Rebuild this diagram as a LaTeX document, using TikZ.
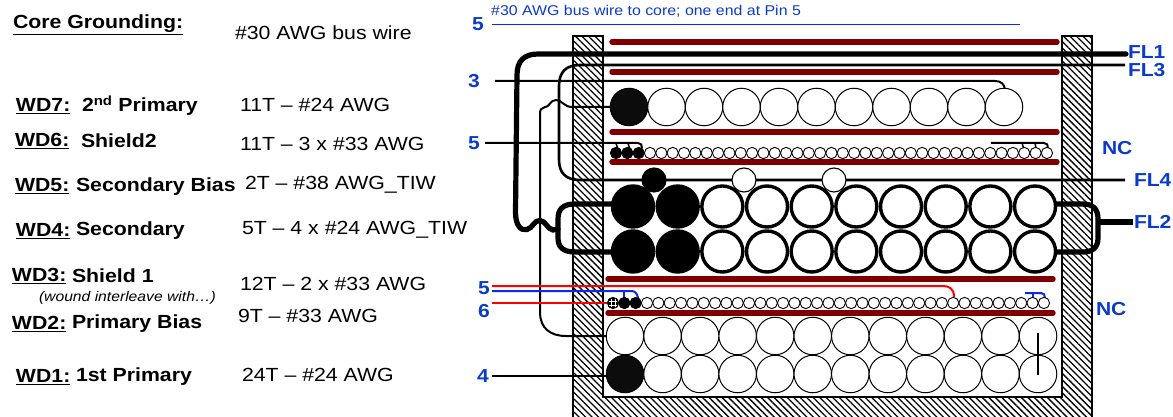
\documentclass[tikz,border=0pt]{standalone}
\usepackage{fontspec}
\setmainfont{Liberation Sans}[FakeStretch=1.12]
\usetikzlibrary{patterns.meta}
\definecolor{lblue}{HTML}{0B3BCB}
\definecolor{wblue}{HTML}{0A28F0}
\definecolor{bar}{HTML}{7F0000}
\definecolor{dark}{HTML}{0C0C0C}
\newcommand{\tsize}{\fontsize{19}{21}\selectfont}
\newcommand{\pinsize}{\fontsize{18.8}{20}\bfseries\selectfont}
\tikzset{
  wall/.style={draw=black,line width=1.5pt,pattern={Lines[angle=-45,distance=4.6pt,line width=1.3pt]},pattern color=black},
  barline/.style={bar,line width=5.4pt,line cap=round},
  fine/.style={black,line width=2pt},
  midw/.style={black,line width=2.6pt},
  heavy/.style={black,line width=5.2pt,line cap=round},
  big/.style={circle,draw=black,fill=white,line width=1pt,minimum size=37.5pt,inner sep=0pt,outer sep=0pt},
  bigd/.style={big,fill=dark},
  sec/.style={circle,draw=black,fill=white,line width=3.4pt,minimum size=41pt,inner sep=0pt,outer sep=0pt},
  secd/.style={sec,fill=black},
  bead/.style={circle,draw=black,fill=white,line width=0.9pt,minimum size=11.3pt,inner sep=0pt,outer sep=0pt},
  beadd/.style={bead,fill=black},
  bias/.style={circle,draw=black,fill=white,line width=1.1pt,minimum size=24pt,inner sep=0pt,outer sep=0pt},
  biasd/.style={bias,fill=black},
  txt/.style={anchor=west,inner sep=0pt,outer sep=0pt,font=\tsize,text=black},
  ttl/.style={txt,font=\tsize\bfseries},
  pin/.style={inner sep=0pt,outer sep=0pt,font=\pinsize,text=lblue},
  pinw/.style={pin,anchor=west},
}
\begin{document}
\begin{tikzpicture}[x=1pt,y=-1pt]
\useasboundingbox (0,0) rectangle (1173,417);
% bobbin
\path[wall] (573,36) -- (603,36) -- (603,397) -- (1062,397) -- (1062,36) -- (1092,36) -- (1092,417.5) -- (573,417.5) -- cycle;
% insulation bars
\foreach \n/\y/\a/\b in {a/42/612/1057,b/72/612/1057,c/132/612/1057,d/162/612/1057,e/279/608/1053,f/313/608/1053}{
  \coordinate (\n1) at (\a,\y); \coordinate (\n2) at (\b,\y);
  \draw[barline] (\n1) -- (\n2);
}
% free wire ends
\coordinate (busS) at (492,24.5); \coordinate (busE) at (1020,24.5);
\coordinate (p3) at (495,81);
\coordinate (p5a) at (485,143);
\coordinate (p5b) at (492,286);
\coordinate (p5c) at (492,291);
\coordinate (p6) at (492,303);
\coordinate (p4) at (492,376);
\coordinate (nA) at (991,143);
\coordinate (nB) at (1025,293);
\coordinate (fl1) at (1126,54);
\coordinate (fl3) at (1125,65);
\coordinate (fl4) at (1125,180);
\coordinate (fl2) at (1133,222);
\coordinate (join) at (558,229);
% wires under the windings
\draw[wblue,line width=1.4pt] (busS) -- (busE);
\draw[heavy] (fl1) -- (538,54) .. controls (524,54) and (517,61) .. (517,75) -- (515.5,212) .. controls (515.5,226) and (521,231) .. (527,229.5) .. controls (533,228) and (534,220) .. (540,220.5) .. controls (546,221) and (547,229) .. (553,230) -- (join);
\draw[midw] (fl3) -- (580,65) .. controls (566,65) and (559,72) .. (559,86) -- (559,160) .. controls (559,173) and (566,180) .. (580,180) -- (fl4);
\draw[fine] (p3) -- (995,81) .. controls (1001,81) and (1004,84) .. (1005,89);
\draw[heavy,line cap=butt] (633,204) -- (575,204) .. controls (563,204) and (558,209) .. (558,219) -- (558,238) .. controls (558,247) and (563,252) .. (575,252) -- (633,252);
\draw[heavy,line cap=butt] (1035,204) -- (1083,204) .. controls (1093,204) and (1098,209) .. (1098,219) -- (1098,238) .. controls (1098,247) and (1093,252) .. (1083,252) -- (1035,252);
\draw[heavy,line cap=butt] (fl2) -- (1098,222);
\draw[fine] (629,107) -- (572,107) .. controls (564,107) and (562,100) .. (556,100) .. controls (550,100) and (550,107) .. (544,107.5) .. controls (541,108) and (540,110) .. (540,114) -- (540,312) .. controls (540,328) and (550,336) .. (566,336) -- (625,336);
\draw[fine] (p5a) -- (638,143) .. controls (641,143) and (642,145) .. (642,148);
\draw[black,line width=1.5pt] (616,143.5) -- (618,149);
\draw[black,line width=1.5pt] (628,143.5) -- (630,149);
\draw[fine] (nA) -- (1044,143) .. controls (1047,143) and (1048,145) .. (1048,148);
\draw[black,line width=1.5pt] (1022,143) -- (1023.5,148);
\draw[black,line width=1.5pt] (1035,143) -- (1036,148);
\draw[red,line width=2pt] (p5b) -- (942,286) .. controls (950,286) and (954,289) .. (954,297);
\draw[wblue,line width=2pt] (p5c) -- (631,291) .. controls (635,291) and (637,293) .. (638,298);
\draw[wblue,line width=2pt] (624,291) -- (624,298);
\draw[wblue,line width=2pt] (nB) -- (1041,293) .. controls (1044,293) and (1045,295) .. (1045,298);
\draw[wblue,line width=2pt] (1033,293) -- (1033,298);
\draw[red,line width=2pt] (p6) -- (613,303);
\draw[fine] (p4) -- (610,376);
% WD7
\foreach \i in {0,...,10}{
  \pgfmathsetmacro{\xx}{629+37.5*\i}
  \ifnum\i=0 \node[bigd] (w7-\i) at (\xx,107) {}; \else \node[big] (w7-\i) at (\xx,107) {}; \fi
}
% WD6
\foreach \i in {0,...,38}{
  \pgfmathsetmacro{\xx}{616+11.34*\i}
  \ifnum\i<3 \node[beadd] (w6-\i) at (\xx,153) {}; \else \node[bead] (w6-\i) at (\xx,153) {}; \fi
}
% WD5
\node[biasd] (w5-0) at (654,180) {};
\node[bias] (w5-1) at (744,180) {};
\node[bias] (w5-2) at (834,180) {};
% WD4
\foreach \i in {0,...,9}{
  \pgfmathsetmacro{\xx}{633+44.67*\i}
  \ifnum\i<2
    \node[secd] (w4a-\i) at (\xx,206.5) {};
    \node[secd] (w4b-\i) at (\xx,251.5) {};
  \else
    \node[sec] (w4a-\i) at (\xx,206.5) {};
    \node[sec] (w4b-\i) at (\xx,251.5) {};
  \fi
}
% WD3 / WD2
\foreach \i in {0,...,38}{
  \pgfmathsetmacro{\xx}{613+11.34*\i}
  \ifnum\i<3 \node[beadd] (w3-\i) at (\xx,303) {};
  \else \node[bead] (w3-\i) at (\xx,303) {}; \fi
}
\draw[white,line width=1pt] (w3-0.north) ++(-2,1.5) -- ++(0,8.3) ++(4,0) -- ++(0,-8.3);
\draw[white,line width=1pt] (w3-0.west) ++(1.5,-2) -- ++(8.3,0) ++(0,4) -- ++(-8.3,0);
% WD1
\foreach \i in {0,...,11}{
  \pgfmathsetmacro{\xx}{625+37.55*\i}
  \node[big] (w1a-\i) at (\xx,336) {};
  \ifnum\i=0 \node[bigd] (w1b-\i) at (\xx,374) {}; \else \node[big] (w1b-\i) at (\xx,374) {}; \fi
}
\coordinate (vt) at (1038,333); \coordinate (vb) at (1038,375);
\draw[fine] (vt) -- (vb);
% pin labels
\node[pin] (l5t) at (478,24.5) {5};
\node[anchor=west,inner sep=0pt,text=lblue,font=\fontsize{14.2}{16}\selectfont] (lbus) at (491,11) {\#30 AWG bus wire to core; one end at Pin 5};
\node[pin] (l3) at (474,81) {3};
\node[pin] (l5a) at (474,143) {5};
\node[pin] (l5b) at (484,288) {5};
\node[pin] (l6) at (484,311) {6};
\node[pin] (l4) at (483,376) {4};
\node[pinw] (lfl1) at (1128,52) {FL1};
\node[pinw] (lfl3) at (1128,70) {FL3};
\node[pinw] (lnc1) at (1102,148) {NC};
\node[pinw] (lfl4) at (1134,180) {FL4};
\node[pinw] (lfl2) at (1134,222) {FL2};
\node[pinw] (lnc2) at (1096,309) {NC};
% left text
\node[ttl] (core) at (13,25) {\underline{Core Grounding:}};
\node[txt] (t0) at (235,33) {\#30 AWG bus wire};
\node[ttl] (wd7) at (16,106) {\underline{WD7:}};
\node[ttl] (n7) at (82,106) {2\textsuperscript{nd} Primary};
\node[txt] (t7) at (240,105) {11T – \#24 AWG};
\node[ttl] (wd6) at (15,141) {\underline{WD6:}};
\node[ttl] (n6) at (81,141) {Shield2};
\node[txt] (t6) at (240,144) {11T – 3 x \#33 AWG};
\node[ttl] (wd5) at (15,186.5) {\underline{WD5:}};
\node[ttl] (n5) at (76,186.5) {Secondary Bias};
\node[txt] (t5) at (245,185) {2T – \#38 AWG\_TIW};
\node[ttl] (wd4) at (16,231) {\underline{WD4:}};
\node[ttl] (n4) at (76,231) {Secondary};
\node[txt] (t4) at (242,230) {5T – 4 x \#24 AWG\_TIW};
\node[ttl] (wd3) at (12,276) {\underline{WD3:}};
\node[ttl] (n3) at (72,276) {Shield 1};
\node[txt] (t3) at (240,284) {12T – 2 x \#33 AWG};
\node[txt,font=\fontsize{14}{16}\itshape\selectfont] (il) at (39,298) {(wound interleave with…)};
\node[ttl] (wd2) at (12,324) {\underline{WD2:}};
\node[ttl] (n2) at (72,324) {Primary Bias};
\node[txt] (t2) at (238,316) {9T – \#33 AWG};
\node[ttl] (wd1) at (16,377) {\underline{WD1:}};
\node[ttl] (n1) at (76,377) {1st Primary};
\node[txt] (t1) at (242,375) {24T – \#24 AWG};
\end{tikzpicture}
\end{document}
